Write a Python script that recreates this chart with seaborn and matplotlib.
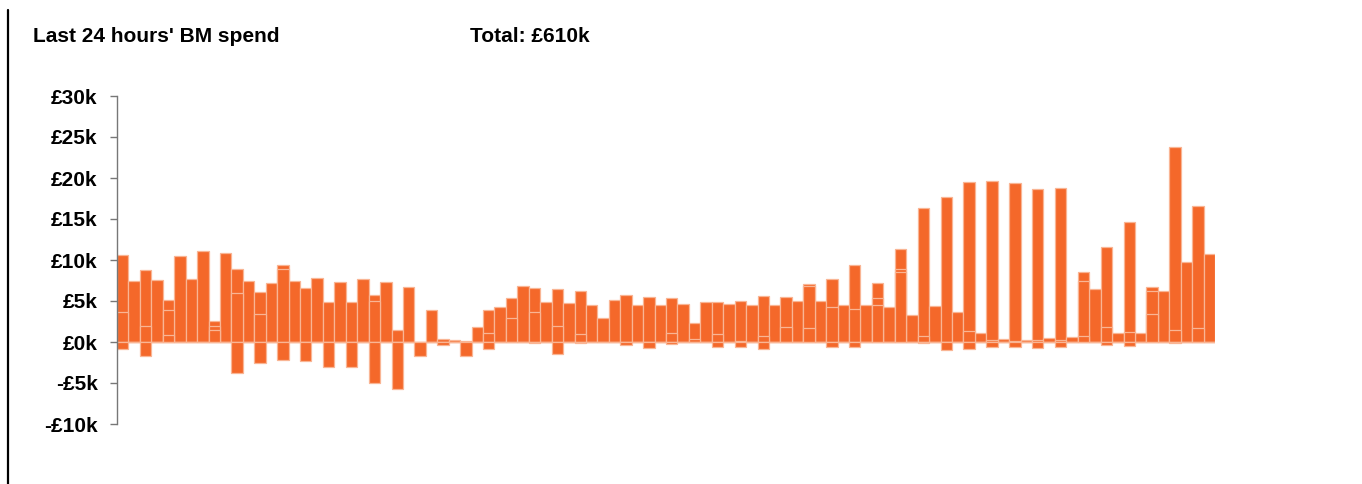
import matplotlib
matplotlib.use("Agg")
import matplotlib.pyplot as plt
import seaborn as sns
import pandas as pd
from matplotlib.lines import Line2D

# --- data (values in £k, one bar per period over the last 24 hours) ---
pos_top = [10.6, 7.5, 8.74, 7.6, 5.16, 10.5, 7.68, 11.06, 2.56, 10.9, 8.86, 7.4, 6.1, 7.15, 9.43, 7.4,
           6.6, 7.76, 4.9, 7.36, 4.84, 7.72, 5.7, 7.28, 1.46, 6.7, 0.05, 3.9, 0.37, 0.24, 0.16, 1.8,
           3.86, 4.23, 5.4, 6.83, 6.54, 4.84, 6.46, 4.7, 6.26, 4.5, 2.97, 5.08, 5.77, 4.5, 5.45, 4.5,
           5.4, 4.67, 2.28, 4.88, 4.84, 4.6, 4.96, 4.5, 5.65, 4.55, 5.53, 5.04, 7.03, 5.04, 7.72, 4.5,
           9.35, 4.5, 7.2, 4.23, 11.3, 3.3, 16.4, 4.35, 17.64, 3.6, 19.47, 1.14, 19.6, 0.37, 19.35, 0.28,
           18.66, 0.45, 18.74, 0.57, 8.58, 6.46, 11.63, 1.06, 14.6, 1.14, 6.67, 6.26, 23.74, 9.76, 16.63, 10.77]
pos_mid = [3.66, 0, 2.0, 0, 3.86, 0, 0, 0, 2.0, 0, 6.0, 0, 3.4, 0, 8.86, 0,
           0, 0, 0, 0, 0, 0, 4.96, 0, 0, 0, 0, 0, 0, 0, 0, 0,
           1.06, 0, 2.9, 0, 3.7, 0, 2.0, 0, 0.93, 0, 0, 0, 0, 0, 0, 0,
           1.06, 0, 0.33, 0, 0.93, 0, 0.12, 0, 0.7, 0, 1.8, 0, 6.8, 0, 4.3, 0,
           4.0, 0, 5.37, 0, 8.86, 0, 0.7, 0, 0, 0, 1.38, 0, 0.2, 0, 0.12, 0,
           0.2, 0, 0.2, 0, 7.4, 0, 1.8, 0, 1.18, 0, 6.18, 0, 1.42, 0, 1.67, 0]
pos_low = [0, 0, 0, 0, 0.8, 0, 0, 0, 1.5, 0, 0, 0, 0, 0, 0, 0,
           0, 0, 0, 0, 0, 0, 0, 0, 0, 0, 0, 0, 0, 0, 0, 0,
           0, 0, 0, 0, 0, 0, 0, 0, 0, 0, 0, 0, 0, 0, 0, 0,
           0, 0, 0, 0, 0, 0, 0, 0, 0, 0, 0, 0, 1.67, 0, 0, 0,
           0, 0, 4.47, 0, 8.5, 0, 0, 0, 0, 0, 0, 0, 0, 0, 0, 0,
           0, 0, 0, 0, 0.7, 0, 0, 0, 0, 0, 3.37, 0, 0, 0, 0, 0]
neg = [-0.9, 0, -1.7, 0, 0, 0, 0, 0, 0, 0, -3.8, 0, -2.5, 0, -2.15, 0,
       -2.36, 0, -3.1, 0, -3.0, 0, -4.96, 0, -5.7, 0, -1.7, 0, -0.33, 0, -1.7, 0,
       -0.9, 0, 0, 0, -0.08, 0, -1.42, 0, -0.12, 0, 0, 0, -0.37, 0, -0.73, 0,
       -0.2, 0, 0, 0, -0.57, 0, -0.6, 0, -0.85, 0, 0, 0, 0, 0, -0.65, 0,
       -0.6, 0, 0, 0, 0, 0, -0.08, 0, -1.0, 0, -0.8, 0, -0.57, 0, -0.65, 0,
       -0.73, 0, -0.57, 0, 0, 0, -0.37, 0, -0.49, 0, 0, 0, -0.08, 0, 0, 0]
y_ticks = [-10, -5, 0, 5, 10, 15, 20, 25, 30]
y_tick_labels = ["-£10k", "-£5k", "£0k", "£5k", "£10k", "£15k", "£20k", "£25k", "£30k"]
title_text = "Last 24 hours' BM spend"
total_text = "Total: £610k"

df = pd.DataFrame({"period": [str(i) for i in range(len(pos_top))],
                   "top": pos_top, "mid": pos_mid, "low": pos_low, "neg": neg})

sns.set_style("white")
plt.rcParams['font.family'] = ['Liberation Sans', 'DejaVu Sans']

BAR = "#F4682A"
EDGE = "#F9B594"
FS = 15

fig = plt.figure(figsize=(13.62, 4.84), dpi=100)
ax = fig.add_axes([117 / 1362, 60 / 484, 1098 / 1362, 328 / 484])

order = list(df["period"])
for col in ["top", "mid", "low", "neg"]:
    sns.barplot(data=df, x="period", y=col, order=order, ax=ax, color=BAR, saturation=1,
                width=1.0, edgecolor=EDGE, linewidth=0.9, errorbar=None)

ax.set_xlim(-0.5, len(order) - 0.5)
ax.set_ylim(-10, 30)
ax.set_xticks([])
ax.set_xlabel("")
ax.set_ylabel("")
ax.set_yticks(y_ticks)
ax.set_yticklabels(y_tick_labels, fontsize=FS, fontweight="bold", color="black")
ax.tick_params(axis="y", length=5, width=1, color="#777777", pad=9, left=True)
for s in ["top", "right", "bottom"]:
    ax.spines[s].set_visible(False)
ax.spines["left"].set_color("#777777")
ax.spines["left"].set_linewidth(1)
ax.spines["left"].set_bounds(-10, 30)

fig.text(33 / 1362, 1 - 37 / 484, title_text, fontsize=FS, fontweight="bold", color="black",
         va="center", ha="left")
fig.text(470 / 1362, 1 - 37 / 484, total_text, fontsize=FS, fontweight="bold", color="black",
         va="center", ha="left")

# left border line of the panel
fig.add_artist(Line2D([8 / 1362, 8 / 1362], [0, 1 - 10 / 484], transform=fig.transFigure,
                      color="black", linewidth=1.6))

fig.savefig("out.png", dpi=100)
